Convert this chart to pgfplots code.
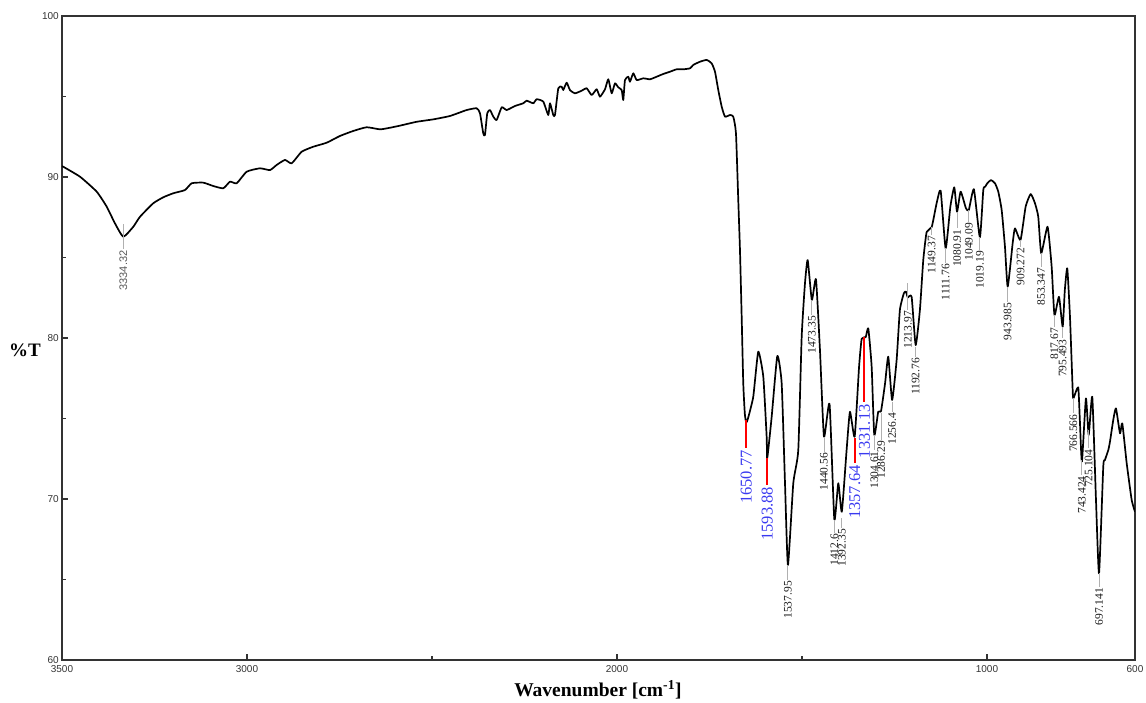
\documentclass[border=0pt]{standalone}
\usepackage{fontspec}
\setmainfont{Liberation Serif}
\newfontfamily\arialfont{Liberation Sans}
\usepackage{pgfplots}
\pgfplotsset{compat=1.18}
\definecolor{axgray}{HTML}{333333}
\definecolor{lblblue}{HTML}{3A3AF0}
\definecolor{pkline}{HTML}{B0B0B0}
\newcommand{\pk}[4]{\draw[pkline, line width=0.9pt] (axis cs:#1,#2) -- (axis cs:#1,#3) node[rotate=90, anchor=east, inner sep=0.8pt, text=black!90, font=\fontsize{11.5}{12}\selectfont] {#4};}
\newcommand{\bpk}[4]{\draw[red, line width=2pt] (axis cs:#1,#2) -- (axis cs:#1,#3) node[rotate=90, anchor=east, inner sep=1pt, text=lblblue, font=\fontsize{16.5}{17}\selectfont] {#4};}
\begin{document}
\begin{tikzpicture}
\useasboundingbox (0pt,0pt) rectangle (1146pt,702pt);
\begin{axis}[
  at={(62pt,42pt)}, anchor=south west,
  scale only axis, width=1073pt, height=644pt,
  xmin=600, xmax=3500, ymin=60, ymax=100,
  x dir=reverse,
  axis line style={axgray, line width=1.5pt},
  tick pos=left, tick align=inside,
  major tick length=6pt, minor tick length=4pt,
  every tick/.style={axgray, line width=1.3pt},
  xtick={3500,3000,2000,1000,600},
  xticklabels={3500,3000,2000,1000,600},
  minor xtick={2500,1500},
  ytick={60,70,80,90,100},
  yticklabels={60,70,80,90,100},
  minor ytick={65,75,85,95},
  tick label style={font=\arialfont\fontsize{10}{11}\selectfont, text=axgray},
  xticklabel style={inner sep=5pt},
  yticklabel style={inner sep=3pt},
  xlabel={Wavenumber [cm\textsuperscript{-1}]},
  ylabel={\%T},
  xlabel style={at={(axis description cs:0.4995,-0.0466)}, anchor=center, font=\bfseries\fontsize{19.5}{20}\selectfont},
  ylabel style={at={(axis description cs:-0.0345,0.481)}, anchor=center, rotate=-90, font=\bfseries\fontsize{19}{20}\selectfont},
]
\addplot[black, line width=1.7pt, line join=round, smooth, tension=0.3] coordinates {
(3500,90.68) (3451.4,90.02) (3406.2,89.09) (3379.2,88.16) (3356.8,87.12) (3334.3,86.29)
(3307.3,86.91) (3289.2,87.53) (3253.2,88.37) (3226.2,88.74) (3199.2,88.99) (3167.6,89.19)
(3149.5,89.61) (3118.1,89.65) (3091.1,89.44) (3064.0,89.30) (3045.9,89.71) (3027.8,89.61)
(3000.8,90.33) (2964.9,90.54) (2937.8,90.43) (2919.7,90.75) (2897.3,91.06) (2879.2,90.85)
(2852.2,91.57) (2820.8,91.88) (2784.6,92.13) (2748.6,92.55) (2712.7,92.86) (2676.5,93.09)
(2640.5,92.96) (2613.5,93.06) (2586.5,93.19) (2541.3,93.43) (2496.5,93.58) (2451.4,93.79)
(2406.2,94.16) (2379.2,94.27) (2370.3,93.96) (2361.4,92.71) (2356.8,92.61) (2350.6,93.96)
(2343.2,94.16) (2334.3,93.75) (2325.2,93.54) (2311.6,94.33) (2298.1,94.16) (2275.7,94.41)
(2253.2,94.58) (2244.1,94.74) (2226.2,94.58) (2217.1,94.83) (2199.2,94.68) (2185.7,93.85)
(2181.1,94.58) (2172.2,93.85) (2167.6,93.85) (2158.6,95.51) (2149.5,95.61) (2145.2,95.40)
(2136.0,95.86) (2127.1,95.40) (2113.5,95.20) (2095.5,95.36) (2081.9,95.51) (2068.4,95.09)
(2054.9,95.45) (2045.9,94.99) (2032.4,95.45) (2023.5,96.07) (2014.3,95.20) (2005.4,95.82)
(1996.5,95.57) (1987.3,95.40) (1983.0,94.78) (1978.4,96.02) (1969.5,96.23) (1964.9,95.92)
(1955.9,96.44) (1946.7,96.02) (1928.9,96.13) (1910.8,96.07) (1892.7,96.23) (1874.9,96.40)
(1856.8,96.54) (1838.7,96.69) (1820.8,96.69) (1802.7,96.75) (1793.8,96.96) (1775.7,97.16)
(1757.6,97.27) (1744.1,97.06) (1735.1,96.54) (1726.2,95.40) (1717.0,94.37) (1708.1,93.75)
(1694.6,93.85) (1685.7,93.75) (1678.4,92.71) (1672.2,88.57) (1667.6,85.47) (1663.0,81.32)
(1658.7,77.19) (1654.5,75.30) (1650.8,74.75) (1646.0,75.00) (1631.7,76.35) (1618.2,79.15)
(1604.6,77.60) (1595.5,73.87) (1593.9,72.53) (1581.9,75.11) (1566.7,78.88) (1554.9,77.19)
(1545.9,70.98) (1537.95,65.90) (1523.5,70.98) (1510.0,73.04) (1500.8,80.08) (1491.9,83.40)
(1484.6,84.84) (1473.35,82.36) (1462.2,83.65) (1451.4,79.25) (1440.56,73.87) (1425.5,75.90)
(1412.6,68.74) (1401.9,70.98) (1392.35,69.21) (1379.4,73.04) (1370.3,75.42) (1357.64,73.87)
(1345.7,78.22) (1338.6,79.95) (1327.8,80.05) (1320.8,80.60) (1311.7,78.22) (1304.61,73.98)
(1293.9,75.42) (1286.29,75.47) (1275.4,77.19) (1266.8,78.84) (1256.4,76.15) (1244.2,78.63)
(1235.4,81.74) (1224.6,82.78) (1219.0,82.88) (1213.97,82.52) (1203.6,82.55) (1192.76,79.56)
(1181.3,81.74) (1172.2,84.84) (1163.1,86.58) (1149.37,86.89) (1136.1,88.37) (1125.2,89.15)
(1111.76,85.57) (1099.0,88.16) (1088.4,89.36) (1080.91,87.84) (1071.2,89.09) (1056.9,88.06)
(1049.09,87.95) (1035.4,89.24) (1019.19,86.25) (1010.0,89.19) (1004.6,89.40) (999.2,89.61)
(989.2,89.81) (978.4,89.61) (969.5,89.09) (960.3,87.95) (951.4,85.67) (943.985,83.19)
(930.6,85.88) (924.4,86.81) (909.272,86.09) (895.5,88.16) (881.9,88.94) (870.3,88.37)
(861.4,87.53) (853.347,85.26) (836.3,86.91) (825.2,84.43) (817.67,81.43) (805.4,82.56)
(795.493,80.70) (789.6,82.98) (783.0,84.33) (775.7,81.32) (768.4,76.77) (766.566,76.25)
(753.5,76.94) (749.0,74.90) (743.424,72.32) (732.6,76.25) (725.104,73.98) (715.4,76.35)
(705.4,69.94) (697.141,65.38) (685.7,72.01) (681.2,72.42) (672.1,73.04) (667.6,73.56)
(658.7,74.91) (651.4,75.63) (640.5,74.08) (634.3,74.70) (622.4,72.22) (608.9,69.94)
(600,69.21)
};
\draw[pkline, line width=0.9pt] (axis cs:3334.32,87.08) -- (axis cs:3334.32,85.5) node[rotate=90, anchor=east, inner sep=0.8pt, text=black!65, font=\arialfont\fontsize{11}{12}\selectfont] {3334.32};
\pk{1537.95}{65.90}{64.97}{1537.95}
\pk{1473.35}{82.36}{81.43}{1473.35}
\pk{1440.56}{73.8}{72.94}{1440.56}
\pk{1412.6}{68.7}{67.9}{1412.6}
\pk{1392.35}{68.8}{68.2}{1392.35}
\pk{1304.61}{73.98}{73.04}{1304.61}
\pk{1286.29}{75.34}{73.67}{1286.29}
\pk{1256.4}{76.04}{75.42}{1256.4}
\pk{1213.97}{83.40}{81.74}{1213.97}
\pk{1192.76}{79.46}{78.84}{1192.76}
\pk{1149.37}{86.9}{86.4}{1149.37}
\pk{1111.76}{85.6}{84.66}{1111.76}
\pk{1080.91}{87.84}{86.81}{1080.91}
\pk{1049.09}{87.95}{87.22}{1049.09}
\pk{1019.19}{86.25}{85.47}{1019.19}
\pk{943.985}{83.19}{82.26}{943.985}
\pk{909.272}{86.09}{85.67}{909.272}
\pk{853.347}{85.26}{84.43}{853.347}
\pk{817.67}{81.43}{80.70}{817.67}
\pk{795.493}{80.70}{79.98}{795.493}
\pk{766.566}{76.25}{75.32}{766.566}
\pk{743.424}{72.42}{71.49}{743.424}
\pk{725.104}{74.29}{73.15}{725.104}
\pk{697.141}{65.38}{64.55}{697.141}
\bpk{1650.77}{74.91}{73.16}{1650.77}
\bpk{1593.88}{72.53}{70.87}{1593.88}
\bpk{1357.64}{73.77}{72.22}{1357.64}
\bpk{1331.13}{80.08}{76.0}{1331.13}
\end{axis}
\end{tikzpicture}
\end{document}
